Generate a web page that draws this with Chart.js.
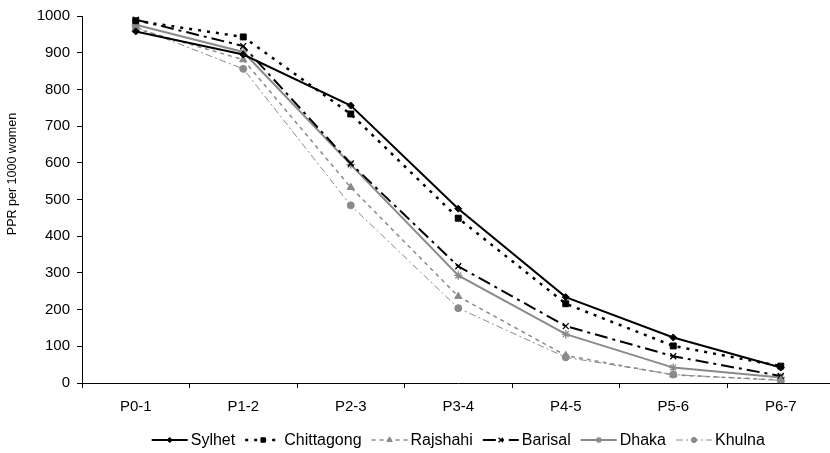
<!DOCTYPE html>
<html>
<head>
<meta charset="utf-8">
<script src="https://cdn.jsdelivr.net/npm/chart.js@4"></script>
<style>
  html, body { margin: 0; padding: 0; background: #fff; overflow: hidden; }
  #wrap { position: relative; width: 840px; height: 453px; }
</style>
</head>
<body>
<div id="wrap"><canvas id="chart"></canvas></div>
<script>
// Parity progression ratios per 1000 women, by division
const categories = ['P0-1', 'P1-2', 'P2-3', 'P3-4', 'P4-5', 'P5-6', 'P6-7'];
const sylhet     = [958, 895, 756, 475, 234, 124, 42];
const chittagong = [987, 943, 733, 449, 216, 101, 46];
const rajshahi   = [966, 881, 533, 236, 75, 22, 8];
const barisal    = [990, 918, 598, 318, 155, 73, 19];
const dhaka      = [976, 902, 595, 293, 133, 42, 15];
const khulna     = [970, 856, 484, 204, 70, 23, 7];
const yTicks     = [0, 100, 200, 300, 400, 500, 600, 700, 800, 900, 1000];
const yTitle     = 'PPR per 1000 women';

const FONT = '"Liberation Sans", Arial, sans-serif';
const GREY = '#8a8a8a';

function series(label, data, color, width, dash, style, radius, pointBorder) {
  return {
    label, data,
    borderColor: color, backgroundColor: color,
    borderWidth: width, borderDash: dash,
    pointStyle: style, pointRadius: radius, pointHoverRadius: radius,
    pointBorderWidth: pointBorder, pointBackgroundColor: color, pointBorderColor: color,
    tension: 0, fill: false
  };
}

const datasets = [
  series('Sylhet',     sylhet,     '#000', 2,   [],            'rectRot',  3.5, 1),
  series('Chittagong', chittagong, '#000', 2.5, [3, 6],        'rect',     4.2, 1),
  series('Rajshahi',   rajshahi,   GREY,   1.5, [4, 4],        'triangle', 4.2, 1),
  series('Barisal',    barisal,    '#000', 2,   [13, 5, 3, 5], 'crossRot', 4.2, 1.3),
  series('Dhaka',      dhaka,      GREY,   2,   [],            'star',     4.2, 1.3),
  series('Khulna',     khulna,     GREY,   1,   [7, 3, 2, 3],  'circle',   3.5, 1)
];

// Rotated value-axis caption, set a little above the middle of the axis
const axisCaption = {
  id: 'axisCaption',
  afterDraw(chart) {
    const ctx = chart.ctx;
    ctx.save();
    ctx.translate(13, 174);
    ctx.rotate(-Math.PI / 2);
    ctx.font = '12.5px ' + FONT;
    ctx.fillStyle = '#000';
    ctx.textAlign = 'center';
    ctx.textBaseline = 'middle';
    ctx.fillText(yTitle, 0, 0);
    ctx.restore();
  }
};

// Line-marker-line legend drawn under the plot, centred on the plot area
const lineLegend = {
  id: 'lineLegend',
  afterDraw(chart) {
    const ctx = chart.ctx;
    const area = chart.chartArea;
    const seg = 36, gapText = 3, gapItem = 10;
    const y = 440;
    ctx.save();
    ctx.font = '16px ' + FONT;
    const widths = chart.data.datasets.map(d => ctx.measureText(d.label).width);
    const total = widths.reduce((a, w) => a + seg + gapText + w, 0) + gapItem * (widths.length - 1);
    let x = (area.left + area.right) / 2 - total / 2;
    chart.data.datasets.forEach((d, i) => {
      ctx.strokeStyle = d.borderColor;
      ctx.lineWidth = d.borderWidth;
      ctx.setLineDash(d.borderDash);
      ctx.beginPath();
      ctx.moveTo(x, y);
      ctx.lineTo(x + seg, y);
      ctx.stroke();
      ctx.setLineDash([]);
      ctx.fillStyle = d.pointBackgroundColor;
      ctx.strokeStyle = d.pointBorderColor;
      ctx.lineWidth = d.pointBorderWidth;
      Chart.helpers.drawPoint(ctx, { pointStyle: d.pointStyle, radius: d.pointRadius * 0.75, borderWidth: d.pointBorderWidth, rotation: 0 }, x + seg / 2, y);
      ctx.fillStyle = '#000';
      ctx.textAlign = 'left';
      ctx.textBaseline = 'middle';
      ctx.fillText(d.label, x + seg + gapText, y + 0.5);
      x += seg + gapText + widths[i] + gapItem;
    });
    ctx.restore();
  }
};

new Chart(document.getElementById('chart'), {
  type: 'line',
  data: { labels: categories, datasets },
  plugins: [lineLegend, axisCaption],
  options: {
    responsive: true,
    maintainAspectRatio: false,
    animation: false,
    events: [],
    layout: { padding: { left: 0, right: 4, top: 15, bottom: 40 } },
    plugins: { legend: { display: false }, tooltip: { enabled: false } },
    scales: {
      x: {
        type: 'category',
        offset: true,
        grid: { offset: true, drawOnChartArea: false, drawTicks: true, tickLength: 5, color: '#000', lineWidth: 1 },
        border: { color: '#000', width: 1 },
        ticks: { color: '#000', font: { family: FONT, size: 15 }, padding: 10, maxRotation: 0, autoSkip: false },
        afterFit(scale) { scale.height = 30; }
      },
      y: {
        min: 0, max: 1000,
        afterBuildTicks(scale) { scale.ticks = yTicks.map(v => ({ value: v })); },
        grid: { drawOnChartArea: false, drawTicks: true, tickLength: 5, color: '#000', lineWidth: 1 },
        border: { color: '#000', width: 1 },
        ticks: { color: '#000', font: { family: FONT, size: 15 }, padding: 7, callback: v => String(v) },
        afterFit(scale) { scale.width = 82; }
      }
    }
  }
});
</script>
</body>
</html>
